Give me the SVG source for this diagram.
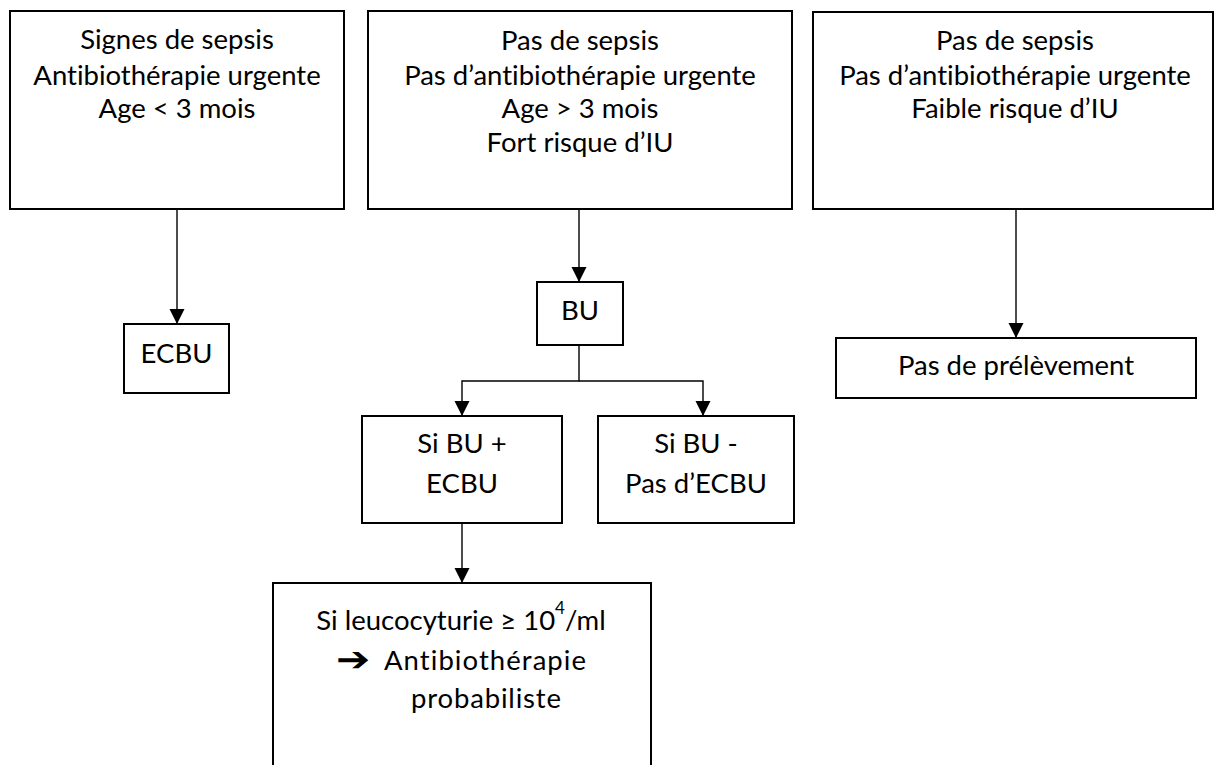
<svg xmlns="http://www.w3.org/2000/svg" width="1215" height="765" viewBox="0 0 1215 765">
<defs>
<marker id="ah" markerUnits="userSpaceOnUse" markerWidth="16" markerHeight="16" refX="15" refY="7.5" orient="auto">
<path d="M0,0 L15,7.5 L0,15 Z" fill="#000"/>
</marker>
<style>
.box{fill:#fff;stroke:#000;stroke-width:2}
.t{font-family:Lato,"Liberation Sans",sans-serif;font-size:27.5px;fill:#000;text-anchor:middle;font-variant-ligatures:none}
.s{font-family:Lato,"Liberation Sans",sans-serif;font-size:27.5px;fill:#000;text-anchor:start;font-variant-ligatures:none}
.c{fill:none;stroke:#000;stroke-width:1.4}
</style>
</defs>
<rect width="1215" height="765" fill="#fff"/>
<g id="connectors">
<path class="c" d="M177,209 V324" marker-end="url(#ah)"/>
<path class="c" d="M579,209 V282" marker-end="url(#ah)"/>
<path class="c" d="M1016,209 V338" marker-end="url(#ah)"/>
<path class="c" d="M579,345 V381 H462 V416" marker-end="url(#ah)"/>
<path class="c" d="M579,381 H703 V416" marker-end="url(#ah)"/>
<path class="c" d="M462,523 V583" marker-end="url(#ah)"/>
</g>
<g id="n1">
<rect class="box" x="10" y="11" width="334" height="198"/>
<text class="t" x="177" y="49">Signes de sepsis</text>
<text class="t" x="177" y="85">Antibiothérapie urgente</text>
<text class="t" x="177" y="118">Age &lt; 3 mois</text>
</g>
<g id="n2">
<rect class="box" x="368" y="11" width="424" height="198"/>
<text class="t" x="580" y="50">Pas de sepsis</text>
<text class="t" x="580" y="85">Pas d’antibiothérapie urgente</text>
<text class="t" x="580" y="118">Age &gt; 3 mois</text>
<text class="t" x="580" y="152">Fort risque d’IU</text>
</g>
<g id="n3">
<rect class="box" x="813" y="12" width="400" height="197"/>
<text class="t" x="1015" y="50">Pas de sepsis</text>
<text class="t" x="1015" y="85">Pas d’antibiothérapie urgente</text>
<text class="t" x="1015" y="118">Faible risque d’IU</text>
</g>
<g id="n4">
<rect class="box" x="124" y="324" width="105" height="69"/>
<text class="t" x="176.5" y="363">ECBU</text>
</g>
<g id="n5">
<rect class="box" x="537" y="282" width="86" height="63"/>
<text class="t" x="580" y="320">BU</text>
</g>
<g id="n6">
<rect class="box" x="836" y="338" width="360" height="60"/>
<text class="t" x="1016" y="375">Pas de prélèvement</text>
</g>
<g id="n7">
<rect class="box" x="362" y="416" width="200" height="107"/>
<text class="t" x="462" y="453">Si BU +</text>
<text class="t" x="462" y="493">ECBU</text>
</g>
<g id="n8">
<rect class="box" x="598" y="416" width="196" height="107"/>
<text class="t" x="696" y="453">Si BU -</text>
<text class="t" x="696" y="493">Pas d’ECBU</text>
</g>
<g id="n9">
<rect class="box" x="273" y="583" width="378" height="220"/>
<text class="t" x="461" y="630">Si leucocyturie ≥ 10<tspan font-size="17" dy="-16">4</tspan><tspan dy="16">/ml</tspan></text>
<text x="0" y="0" transform="translate(336,671) scale(1.2,1)" style="font-family:'DejaVu Sans',sans-serif;font-size:34px;font-weight:bold">➔</text>
<text class="s" x="384" y="670" textLength="202" lengthAdjust="spacing">Antibiothérapie</text>
<text class="s" x="411" y="708" textLength="150" lengthAdjust="spacing">probabiliste</text>
</g>
</svg>
